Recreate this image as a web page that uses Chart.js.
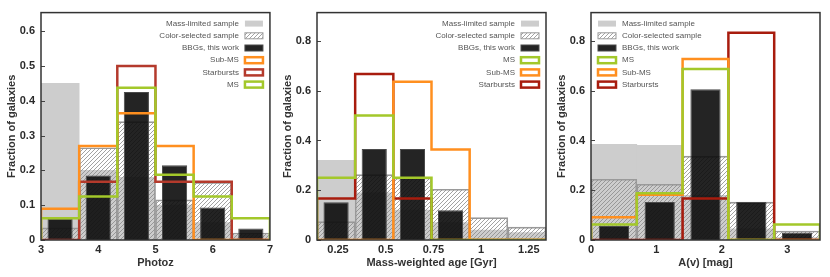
<!DOCTYPE html>
<html>
<head>
<meta charset="utf-8">
<script src="https://cdn.jsdelivr.net/npm/chart.js@4.4.1/dist/chart.umd.min.js"></script>
<style>
body { margin: 0; background: #fff; width: 830px; height: 277px; overflow: hidden; }
canvas { position: absolute; top: 0; }
</style>
</head>
<body>
<canvas id="photoz" width="276" height="277" style="left:0px"></canvas>
<canvas id="age" width="276" height="277" style="left:276px"></canvas>
<canvas id="av" width="276" height="277" style="left:550px"></canvas>
<script>
// Photoz panel
const zEdges = [3, 3.667, 4.333, 5, 5.667, 6.333, 7];
const zMass = [0.45, 0.2, 0.18, 0.1, 0.05, 0.015];
const zColor = [0.035, 0.265, 0.34, 0.115, 0.165, 0.02];
const zBBG = [0.06, 0.185, 0.425, 0.215, 0.093, 0.033];
const zSubMS = [0.09, 0.27, 0.364, 0.27, 0, 0];
const zStarburst = [0, 0.167, 0.5, 0.167, 0.167, 0];
const zMS = [0.0625, 0.125, 0.4375, 0.1875, 0.125, 0.0625];
const zTicks = [3, 4, 5, 6, 7];
const zYTicks = [0, 0.1, 0.2, 0.3, 0.4, 0.5, 0.6];

// Mass-weighted age panel
const ageEdges = [0.14, 0.34, 0.54, 0.74, 0.94, 1.14, 1.34];
const ageMass = [0.32, 0.19, 0.12, 0.07, 0.04, 0.03];
const ageColor = [0.074, 0.263, 0.25, 0.204, 0.09, 0.052];
const ageBBG = [0.152, 0.366, 0.366, 0.12, 0, 0];
const ageMS = [0.25, 0.5, 0.25, 0, 0, 0];
const ageSubMS = [0, 0, 0.636, 0.364, 0, 0];
const ageStarburst = [0.167, 0.667, 0.167, 0, 0, 0];
const ageTicks = [0.25, 0.5, 0.75, 1, 1.25];

// A(v) panel
const avEdges = [0, 0.7, 1.4, 2.1, 2.8, 3.5];
const avMass = [0.385, 0.381, 0.18, 0.045, 0.01];
const avColor = [0.244, 0.224, 0.337, 0.152, 0.036];
const avBBG = [0.056, 0.153, 0.606, 0.153, 0.03];
const avMS = [0.0625, 0.1875, 0.6875, 0, 0.0625];
const avSubMS = [0.091, 0.182, 0.727, 0, 0];
const avStarburst = [0, 0, 0.167, 0.833, 0];
const avTicks = [0, 1, 2, 3];
const wideYTicks = [0, 0.2, 0.4, 0.6, 0.8];

const FONT = '"Liberation Sans", Arial, sans-serif';

function hatchPattern() {
    const c = document.createElement('canvas');
    c.width = 4; c.height = 4;
    const g = c.getContext('2d');
    g.strokeStyle = '#8a8a8a';
    g.lineWidth = 0.8;
    g.beginPath();
    g.moveTo(0, 4); g.lineTo(4, 0);
    g.moveTo(-1, 1); g.lineTo(1, -1);
    g.moveTo(3, 5); g.lineTo(5, 3);
    g.stroke();
    return g.createPattern(c, 'repeat');
}

function centers(edges) {
    return edges.slice(1).map((e, i) => (e + edges[i]) / 2);
}
function barData(edges, vals) {
    const c = centers(edges);
    return vals.map((v, i) => ({x: c[i], y: v}));
}
// outline of a step histogram: up at the first edge, down at the last
function stepData(edges, vals) {
    let pts = [{x: edges[0], y: 0}];
    vals.forEach((v, i) => pts.push({x: edges[i + 1], y: v}));
    pts.push({x: edges[edges.length - 1], y: 0});
    return pts;
}

const framePlugin = {
    id: 'frame',
    afterDatasetsDraw(chart) {
        const {ctx, chartArea: a} = chart;
        ctx.save();
        ctx.strokeStyle = '#444';
        ctx.lineWidth = 1;
        chart.scales.y.ticks.forEach(t => {
            const y = Math.round(chart.scales.y.getPixelForValue(t.value)) + 0.5;
            ctx.beginPath(); ctx.moveTo(a.left, y); ctx.lineTo(a.left + 4, y); ctx.stroke();
        });
        ctx.strokeStyle = '#333';
        ctx.lineWidth = 1.5;
        ctx.strokeRect(a.left, a.top, a.right - a.left, a.bottom - a.top);
        ctx.restore();
    }
};

const legendPlugin = {
    id: 'histLegend',
    afterDraw(chart, args, opts) {
        const {ctx, chartArea: a} = chart;
        ctx.save();
        ctx.font = '8px ' + FONT;
        ctx.textBaseline = 'middle';
        opts.items.forEach((label, i) => {
            const ds = chart.data.datasets.find(d => d.label === label);
            const y = a.top + 11 + i * 12.2;
            const w = 18, h = 6;
            let bx, tx;
            if (opts.side === 'left') {
                bx = a.left + 7; tx = bx + w + 6; ctx.textAlign = 'left';
            } else {
                bx = a.right - 7 - w; tx = bx - 6; ctx.textAlign = 'right';
            }
            if (ds.type === 'line') {
                ctx.fillStyle = '#fff';
                ctx.fillRect(bx, y - h / 2, w, h);
                ctx.strokeStyle = ds.borderColor;
                ctx.lineWidth = 2.5;
                ctx.strokeRect(bx, y - h / 2, w, h);
            } else {
                ctx.fillStyle = ds.backgroundColor;
                ctx.fillRect(bx, y - h / 2, w, h);
                if (ds.borderWidth) {
                    ctx.strokeStyle = ds.borderColor;
                    ctx.lineWidth = 1;
                    ctx.strokeRect(bx, y - h / 2, w, h);
                }
            }
            ctx.fillStyle = '#555';
            ctx.fillText(label, tx, y);
        });
        ctx.restore();
    }
};

function histChart(id, p) {
    const lines = [
        {label: 'MS', vals: p.ms, color: '#a3c82a'},
        {label: 'Sub-MS', vals: p.subms, color: '#ff8f1f'},
        {label: 'Starbursts', vals: p.sb, color: p.red}
    ];
    const datasets = lines.map(l => ({
        type: 'line',
        label: l.label,
        data: stepData(p.edges, l.vals),
        stepped: 'after',
        borderColor: l.color,
        borderWidth: 2.5,
        pointRadius: 0,
        fill: false,
        order: 0
    }));
    datasets.push({
        label: 'BBGs, this work',
        data: barData(p.edges, p.bbg),
        backgroundColor: 'rgba(12,12,12,0.9)',
        borderColor: '#4a4a4a',
        borderWidth: 1,
        barPercentage: 0.66,
        order: 1
    });
    datasets.push({
        label: 'Color-selected sample',
        data: barData(p.edges, p.color),
        backgroundColor: hatchPattern(),
        borderColor: '#9a9a9a',
        borderWidth: 1,
        order: 2
    });
    datasets.push({
        label: 'Mass-limited sample',
        data: barData(p.edges, p.mass),
        backgroundColor: '#cdcdcd',
        borderWidth: 0,
        order: 3
    });

    const titleFont = {family: FONT, size: 11, weight: 'bold'};
    const config = {
        type: 'bar',
        data: {datasets: datasets},
        options: {
            responsive: false,
            animation: false,
            events: [],
            layout: {padding: {top: 5, right: 6, left: 0, bottom: 0}},
            datasets: {bar: {grouped: false, categoryPercentage: 1, barPercentage: 1}},
            scales: {
                x: {
                    type: 'linear',
                    offset: false,
                    min: p.edges[0],
                    max: p.edges[p.edges.length - 1],
                    afterBuildTicks: s => { s.ticks = p.xTicks.map(v => ({value: v})); },
                    afterFit: s => { s.height = 37; },
                    grid: {display: false, drawTicks: false},
                    border: {display: false},
                    ticks: {padding: 3, color: '#2a2a2a', font: titleFont, maxRotation: 0, callback: v => String(v)},
                    title: {display: true, text: p.xTitle, color: '#333', font: titleFont, padding: {top: 0, bottom: 7}}
                },
                y: {
                    min: 0,
                    max: p.yMax,
                    afterBuildTicks: s => { s.ticks = p.yTicks.map(v => ({value: v})); },
                    afterFit: s => { s.width = 41; },
                    grid: {display: false, drawTicks: false},
                    border: {display: false},
                    ticks: {padding: 6, color: '#2a2a2a', font: titleFont, callback: v => String(v)},
                    title: {display: true, text: 'Fraction of galaxies', color: '#333', font: titleFont, padding: {top: 5, bottom: 0}}
                }
            },
            plugins: {
                legend: {display: false},
                tooltip: {enabled: false},
                histLegend: {items: p.legend, side: p.side}
            }
        },
        plugins: [framePlugin, legendPlugin]
    };
    const ctx = document.getElementById(id).getContext('2d');
    new Chart(ctx, config);
}

histChart('photoz', {
    edges: zEdges, mass: zMass, color: zColor, bbg: zBBG,
    ms: zMS, subms: zSubMS, sb: zStarburst, red: '#b43a2c',
    xTicks: zTicks, yTicks: zYTicks, yMax: 0.653, xTitle: 'Photoz', side: 'right',
    legend: ['Mass-limited sample', 'Color-selected sample', 'BBGs, this work', 'Sub-MS', 'Starbursts', 'MS']
});
histChart('age', {
    edges: ageEdges, mass: ageMass, color: ageColor, bbg: ageBBG,
    ms: ageMS, subms: ageSubMS, sb: ageStarburst, red: '#a81c0e',
    xTicks: ageTicks, yTicks: wideYTicks, yMax: 0.914, xTitle: 'Mass-weighted age [Gyr]', side: 'right',
    legend: ['Mass-limited sample', 'Color-selected sample', 'BBGs, this work', 'MS', 'Sub-MS', 'Starbursts']
});
histChart('av', {
    edges: avEdges, mass: avMass, color: avColor, bbg: avBBG,
    ms: avMS, subms: avSubMS, sb: avStarburst, red: '#a81c0e',
    xTicks: avTicks, yTicks: wideYTicks, yMax: 0.914, xTitle: 'A(v) [mag]', side: 'left',
    legend: ['Mass-limited sample', 'Color-selected sample', 'BBGs, this work', 'MS', 'Sub-MS', 'Starbursts']
});
</script>
</body>
</html>
